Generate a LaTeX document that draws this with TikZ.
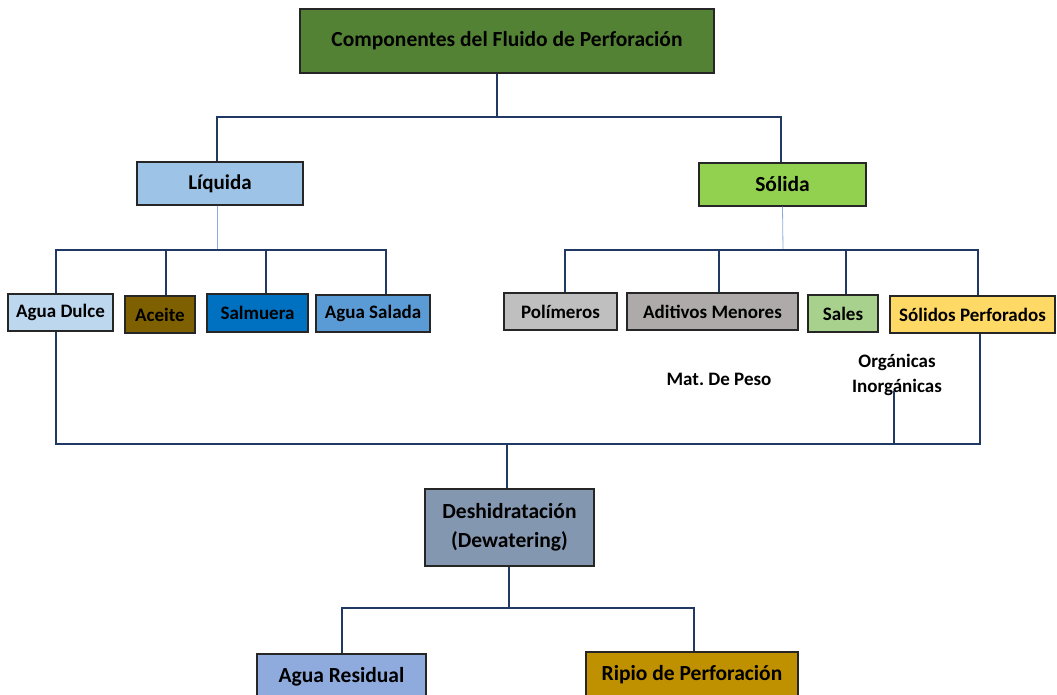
\documentclass[tikz,border=0pt]{standalone}
\usepackage{fontspec}
\setmainfont{Carlito}
\frenchspacing
\definecolor{conncol}{HTML}{1F3864}
\definecolor{thincol}{HTML}{8FAADC}
\definecolor{bordercol}{HTML}{262626}
\definecolor{cTitle}{HTML}{548235}
\definecolor{cLiq}{HTML}{9DC3E6}
\definecolor{cSol}{HTML}{92D050}
\definecolor{cDulce}{HTML}{BDD7EE}
\definecolor{cAceite}{HTML}{7F6000}
\definecolor{cSalm}{HTML}{0070C0}
\definecolor{cSalada}{HTML}{5B9BD5}
\definecolor{cPoli}{HTML}{BFBFBF}
\definecolor{cAdit}{HTML}{AEAAAA}
\definecolor{cSales}{HTML}{A9D18E}
\definecolor{cSolP}{HTML}{FFD966}
\definecolor{cDesh}{HTML}{8497B0}
\definecolor{cResid}{HTML}{8FAADC}
\definecolor{cRipio}{HTML}{BF9000}
\tikzset{
  box/.style={draw=bordercol, line width=1.3pt, inner sep=0pt, align=center,
    font=\fontsize{19}{22}\selectfont\bfseries, text=black},
  bigtext/.style={font=\fontsize{21.5}{29}\selectfont\bfseries},
  conn/.style={draw=conncol, line width=2pt},
  thinconn/.style={draw=thincol, line width=0.8pt},
  lbl/.style={font=\fontsize{19}{25}\selectfont\bfseries, text=black, inner sep=0pt, align=center}
}
\begin{document}
\begin{tikzpicture}[x=1pt,y=-1pt]
\useasboundingbox (0,0) rectangle (1057,695);
\clip (0,0) rectangle (1057,695);
% boxes
\node[box, bigtext, fill=cTitle, minimum width=414pt, minimum height=64pt] (title) at (507,41) {Componentes del Fluido de Perforación};
\node[box, fill=cLiq, minimum width=166pt, minimum height=43pt, font=\fontsize{21}{24}\selectfont\bfseries] (liq) at (220,183.5) {Líquida};
\node[box, fill=cSol, minimum width=167pt, minimum height=43pt, font=\fontsize{21.5}{24}\selectfont\bfseries] (sol) at (782.5,184.5) {Sólida};

\node[box, fill=cDulce, minimum width=105pt, minimum height=37pt] (dulce) at (60.5,312.5) {Agua Dulce};
\node[box, fill=cAceite, minimum width=70pt, minimum height=37pt] (aceite) at (160,314.5) {Aceite};
\node[box, fill=cSalm, minimum width=101pt, minimum height=38pt] (salm) at (257.5,313) {Salmuera};
\node[box, fill=cSalada, minimum width=114pt, minimum height=37pt] (salada) at (373,313.5) {Agua Salada};

\node[box, fill=cPoli, minimum width=113pt, minimum height=37pt] (poli) at (560.5,311.5) {Polímeros};
\node[box, fill=cAdit, minimum width=171pt, minimum height=37pt] (adit) at (712.5,311.5) {Aditivos Menores};
\node[box, fill=cSales, minimum width=70pt, minimum height=37pt] (sales) at (843,313.5) {Sales};
\node[box, fill=cSolP, minimum width=165pt, minimum height=37pt] (solp) at (972.5,314.5) {Sólidos Perforados};

\node[lbl] (peso) at (719,379) {Mat. De Peso};
\node[lbl] (org) at (897,374.5) {Orgánicas\\Inorgánicas};

\node[box, bigtext, fill=cDesh, line width=2.2pt, minimum width=169pt, minimum height=77pt] (desh) at (509.5,527.5) {Deshidratación\\(Dewatering)};
\node[box, bigtext, fill=cResid, minimum width=169pt, minimum height=46pt] (resid) at (341.5,677) {Agua Residual};
\node[box, bigtext, fill=cRipio, minimum width=212pt, minimum height=46pt] (ripio) at (692,675) {Ripio de Perforación};

% coordinates
\coordinate (tb) at (497,117);
\coordinate (lb) at (220,250);
\coordinate (sb) at (783,250);
\coordinate (bb) at (507,444);
\coordinate (db) at (509,608);

% top tree
\draw[conn] ([xshift=-10pt]title.south) -- (tb);
\draw[conn] ([xshift=-3pt]liq.north) |- (tb) -| ([xshift=-1.5pt]sol.north);
% thin stems
\draw[thinconn] ([xshift=-3pt]liq.south) -- ([xshift=-3pt]lb);
\draw[thinconn] (sol.south) -- (sb);
% liquid bus
\draw[conn] ([xshift=-4.5pt]dulce.north) |- ([xshift=-3pt]lb) -| ([xshift=13pt]salada.north);
\draw[conn] ([xshift=6pt]aceite.north) -- ([xshift=6pt]aceite.north |- lb);
\draw[conn] ([xshift=8.5pt]salm.north) -- ([xshift=8.5pt]salm.north |- lb);
% solid bus
\draw[conn] ([xshift=4.5pt]poli.north) |- (sb) -| ([xshift=5.5pt]solp.north);
\draw[conn] ([xshift=6.5pt]adit.north) -- ([xshift=6.5pt]adit.north |- sb);
\draw[conn] ([xshift=3pt]sales.north) -- ([xshift=3pt]sales.north |- sb);
% bottom bus
\draw[conn] ([xshift=-4.5pt]dulce.south) |- (bb) -| ([xshift=7pt]solp.south);
\draw[conn] ([xshift=-3pt,yshift=4pt]org.south) -- ([xshift=-3pt]org.south |- bb);
\draw[conn] (bb) -- (bb |- desh.north);
% dewatering tree
\draw[conn] (desh.south -| db) -- (db);
\draw[conn] (resid.north) |- (db) -| ([xshift=2pt]ripio.north);
\end{tikzpicture}
\end{document}
